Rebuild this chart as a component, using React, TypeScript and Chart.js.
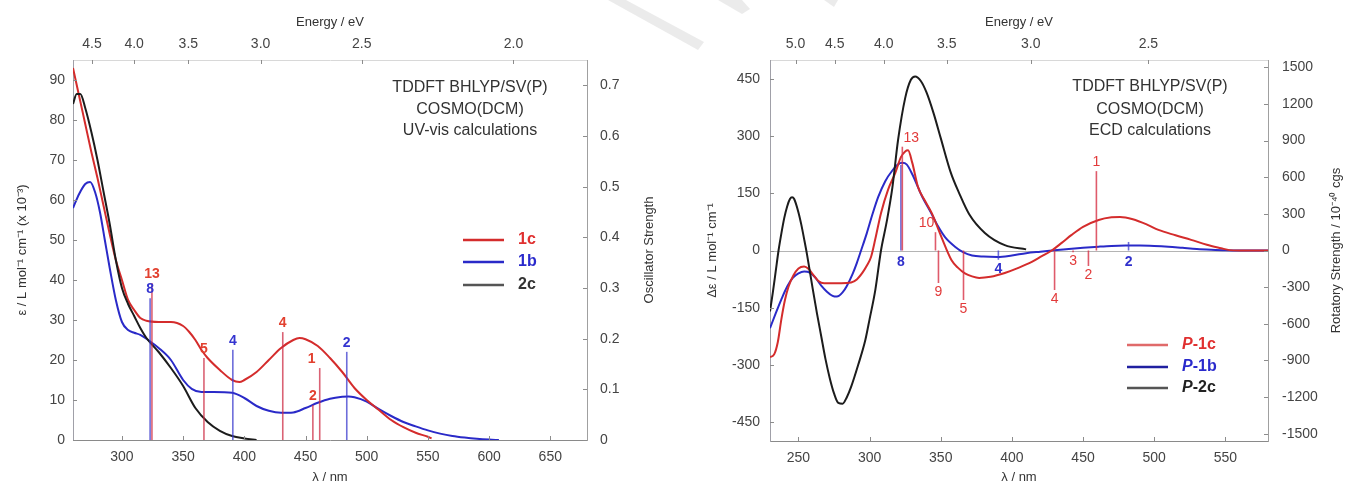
import React, { useEffect, useRef } from "react";
import { Chart, registerables } from "chart.js";

Chart.register(...registerables);

const HC = 1239.84; // eV·nm
const FONT = '"Liberation Sans", Arial, Helvetica, sans-serif';

const RED = "#d42c2c";
const BLUE = "#2a2ac8";
const BLACK = "#1c1c1c";

// ---------------- UV-vis panel ----------------
const uvNmTicks = [300, 350, 400, 450, 500, 550, 600, 650];
const uvEnergyTicks = [4.5, 4.0, 3.5, 3.0, 2.5, 2.0];
const uvEpsTicks = [0, 10, 20, 30, 40, 50, 60, 70, 80, 90];
const uvOscTicks = [0, 0.1, 0.2, 0.3, 0.4, 0.5, 0.6, 0.7];

const uv1cNm = [260, 265, 270, 275, 280, 285, 290, 295, 300, 305, 310, 315, 320, 330, 340, 350, 355, 360, 365, 370, 380, 390, 396, 400, 410, 420, 430, 440, 445, 450, 460, 470, 480, 490, 500, 510, 520, 530, 540, 550, 553];
const uv1cEps = [93, 86, 79, 72, 65.5, 58.5, 51.5, 45, 40, 35, 32.5, 30.5, 29.8, 29.5, 29.5, 28.5, 27, 25, 22.5, 20.5, 17.5, 15, 14.5, 15, 17, 20, 23, 25, 25.5, 25.2, 23.5, 20.5, 17, 13, 10, 7.5, 5, 3.2, 1.8, 0.8, 0.4];

const uv1bNm = [260, 265, 270, 274, 278, 282, 286, 290, 295, 300, 305, 310, 315, 320, 330, 340, 350, 357, 365, 375, 390, 400, 410, 420, 430, 440, 450, 460, 470, 480, 485, 490, 500, 510, 520, 530, 540, 550, 560, 570, 580, 590, 600, 608];
const uv1bEps = [58, 61.5, 64, 64.5, 62, 57, 50, 43, 35, 29.5, 27.5, 26.8, 26.3, 25.3, 23, 20, 15, 12.8, 12, 12, 11.8, 10.5, 8.5, 7.3, 6.8, 6.9, 8, 9.3, 10.3, 10.8, 10.9, 10.7, 9.6, 7.7, 6, 4.5, 3.4, 2.4, 1.6, 1, 0.6, 0.3, 0.1, 0];

const uv2cNm = [260, 263, 266, 270, 275, 280, 285, 290, 295, 300, 305, 310, 315, 320, 330, 340, 350, 360, 370, 380, 390, 400, 410];
const uv2cEps = [84, 86.5, 86.5, 83, 77, 70, 62, 54, 45, 38, 34, 31, 28, 25.5, 22, 18, 13.5, 8, 4.5, 2.3, 1, 0.4, 0];

const uv1cStickNm = [324.5, 367, 431.4, 456, 461.6];
const uv1cStickF = [0.31, 0.162, 0.213, 0.069, 0.142];
const uv1cStickText = ["13", "5", "4", "2", "1"];
const uv1cStickAt = ["end", "end", "end", "end", "end"];

const uv1bStickNm = [323, 390.6, 483.7];
const uv1bStickF = [0.28, 0.178, 0.174];
const uv1bStickText = ["8", "4", "2"];
const uv1bStickAt = ["end", "end", "end"];

// ---------------- ECD panel ----------------
const ecdNmTicks = [250, 300, 350, 400, 450, 500, 550];
const ecdEnergyTicks = [5.0, 4.5, 4.0, 3.5, 3.0, 2.5];
const ecdDeTicks = [-450, -300, -150, 0, 150, 300, 450];
const ecdRotTicks = [-1500, -1200, -900, -600, -300, 0, 300, 600, 900, 1200, 1500];

const ecd1cNm = [230, 233, 235.5, 238, 240.5, 243, 246.5, 250, 254, 257, 260, 264, 268, 280, 287, 291, 295, 298, 301, 304, 308, 313, 318, 322, 325, 327, 330, 334, 339, 343.7, 350.5, 357.5, 362, 367, 372, 377, 385, 395, 405, 414, 421, 428, 435, 442, 450, 461, 470, 476, 485, 495, 503, 515, 526, 537, 547, 553, 560, 580];
const ecd1cDe = [-280, -272, -240, -180, -130, -95, -65, -47, -42, -48, -62, -80, -86, -86, -84, -76, -58, -40, -17, 30, 98, 160, 203, 245, 260, 263, 230, 167, 130, 98, 35, -25, -45, -60, -68, -72, -69, -59, -45, -30, -15, 0, 20, 41, 62, 80, 87, 88, 82, 68, 54, 40, 28, 15, 6, 1, 0, 0];

const ecd1bNm = [230, 234, 238, 242, 246, 250, 254, 258, 262, 266, 270, 274, 277, 281, 284, 288, 291, 294, 298, 302, 306, 311, 316, 320, 323, 326, 330, 337, 343, 348, 353, 360, 366, 372, 380, 390, 400, 410, 420, 428, 440, 450, 461, 470, 480, 490, 500, 510, 520, 530, 540, 550, 560, 580];
const ecd1bDe = [-204, -165, -128, -95, -72, -60, -55, -58, -72, -92, -108, -119, -121, -110, -93, -62, -33, 0, 45, 95, 140, 182, 210, 226, 230, 226, 200, 141, 100, 64, 35, 10, -5, -13, -16, -17, -13, -7, -3, 0, 4, 7, 10, 12, 13, 13, 12, 10, 7, 4, 2, 0.5, 0, 0];

const ecd2cNm = [230, 232, 234, 236, 238, 240, 242, 244, 245.5, 247, 250, 252, 254, 256, 258, 260, 263, 266, 269, 272, 275, 278, 281, 284, 287, 292, 297, 300, 304, 308, 312, 316, 320, 325, 329, 332, 336, 340, 345, 350, 357, 363, 370, 381, 395, 410];
const ecd2cDe = [-160, -110, -55, 0, 45, 85, 115, 135, 140, 135, 100, 68, 30, -10, -55, -100, -165, -225, -285, -335, -375, -400, -402, -385, -358, -300, -235, -180, -104, 0, 75, 165, 290, 400, 448, 457, 445, 415, 360, 295, 205, 150, 95, 46, 14, 3];

const ecd1cStickNm = [323, 346.3, 348.4, 366, 430, 443, 453.8, 459.4];
const ecd1cStickR = [850, 150, -266, -406, -324, -15, -127, 650];
const ecd1cStickText = ["13", "10", "9", "5", "4", "3", "2", "1"];
const ecd1cStickAt = ["end", "end", "end", "end", "end", "end", "end", "end"];

const ecd1bStickNm = [322, 390.5, 482];
const ecd1bStickR = [700, -75, 70];
const ecd1bStickText = ["8", "4", "2"];
const ecd1bStickAt = ["base", "end", "base"];

// small horizontal nudges for crowded stick labels (px)
const labelNudge: Record<string, number> = { "uv:1": -8, "ecd:10": -9, "ecd:13": 9 };

type Series = { nm: number[]; val: number[]; color: string };
type Sticks = { nm: number[]; val: number[]; text: string[]; at: string[]; color: string; textColor: string; bold: boolean };
type LegendItem = { text: string; italicPrefix?: string; color: string; textColor: string };

interface PanelSpec {
  key: string;
  canvasLeft: number;
  width: number;
  area: { left: number; top: number; right: number; bottom: number };
  nmMin: number;
  nmMax: number;
  nmTicks: number[];
  eTicks: number[];
  yMin: number;
  yMax: number;
  yTicks: number[];
  y2Min: number;
  y2Max: number;
  y2Ticks: number[];
  y2Format: (v: number) => string;
  series: Series[];
  sticks: Sticks[];
  zeroLine: boolean;
  titleLeft: string;
  titleRight: string;
  titleLeftX: number;
  titleRightX: number;
  pads: { left: number; right: number };
  note: string[];
  noteX: number;
  noteY: number[];
  legend: LegendItem[];
  legendX: number;
  legendY: number[];
}

const pts = (xs: number[], ys: number[]) => xs.map((x, i) => ({ x, y: ys[i] }));

const uvSpec: PanelSpec = {
  key: "uv",
  canvasLeft: 0,
  width: 672,
  area: { left: 73, top: 60, right: 587, bottom: 440 },
  nmMin: 260,
  nmMax: 680,
  nmTicks: uvNmTicks,
  eTicks: uvEnergyTicks,
  yMin: 0,
  yMax: 95,
  yTicks: uvEpsTicks,
  y2Min: 0,
  y2Max: 0.75,
  y2Ticks: uvOscTicks,
  y2Format: (v) => (v === 0 ? "0" : v.toFixed(1)),
  series: [
    { nm: uv2cNm, val: uv2cEps, color: BLACK },
    { nm: uv1cNm, val: uv1cEps, color: RED },
    { nm: uv1bNm, val: uv1bEps, color: BLUE },
  ],
  sticks: [
    { nm: uv1cStickNm, val: uv1cStickF, text: uv1cStickText, at: uv1cStickAt, color: "rgba(205,45,70,0.75)", textColor: "#e2402f", bold: true },
    { nm: uv1bStickNm, val: uv1bStickF, text: uv1bStickText, at: uv1bStickAt, color: "rgba(60,60,205,0.75)", textColor: "#3434d0", bold: true },
  ],
  zeroLine: false,
  titleLeft: "ε / L mol⁻¹ cm⁻¹ (x 10⁻³)",
  titleRight: "Oscillator Strength",
  titleLeftX: 22,
  titleRightX: 649,
  pads: { left: 8, right: 13 },
  note: ["TDDFT BHLYP/SV(P)", "COSMO(DCM)", "UV-vis calculations"],
  noteX: 470,
  noteY: [88, 110, 131],
  legend: [
    { text: "1c", color: RED, textColor: "#e03030" },
    { text: "1b", color: BLUE, textColor: "#2a2acc" },
    { text: "2c", color: "#555", textColor: "#333" },
  ],
  legendX: 463,
  legendY: [240, 262, 285],
};

const ecdSpec: PanelSpec = {
  key: "ecd",
  canvasLeft: 672,
  width: 675,
  area: { left: 98, top: 60, right: 596, bottom: 441 },
  nmMin: 230,
  nmMax: 580,
  nmTicks: ecdNmTicks,
  eTicks: ecdEnergyTicks,
  yMin: -500,
  yMax: 500,
  yTicks: ecdDeTicks,
  y2Min: -1560,
  y2Max: 1560,
  y2Ticks: ecdRotTicks,
  y2Format: (v) => String(v),
  series: [
    { nm: ecd2cNm, val: ecd2cDe, color: BLACK },
    { nm: ecd1cNm, val: ecd1cDe, color: RED },
    { nm: ecd1bNm, val: ecd1bDe, color: BLUE },
  ],
  sticks: [
    { nm: ecd1cStickNm, val: ecd1cStickR, text: ecd1cStickText, at: ecd1cStickAt, color: "rgba(215,50,70,0.8)", textColor: "#e23a3a", bold: false },
    { nm: ecd1bStickNm, val: ecd1bStickR, text: ecd1bStickText, at: ecd1bStickAt, color: "rgba(60,60,205,0.75)", textColor: "#3030cc", bold: true },
  ],
  zeroLine: true,
  titleLeft: "Δε / L mol⁻¹ cm⁻¹",
  titleRight: "Rotatory Strength / 10⁻⁴⁰ cgs",
  titleLeftX: 40,
  titleRightX: 664,
  pads: { left: 10, right: 14 },
  note: ["TDDFT BHLYP/SV(P)", "COSMO(DCM)", "ECD calculations"],
  noteX: 478,
  noteY: [87, 110, 131],
  legend: [
    { text: "-1c", italicPrefix: "P", color: "#e06a6a", textColor: "#e03030" },
    { text: "-1b", italicPrefix: "P", color: "#2020a0", textColor: "#2a2acc" },
    { text: "-2c", italicPrefix: "P", color: "#555", textColor: "#222" },
  ],
  legendX: 455,
  legendY: [345, 367, 388],
};

// faint diagonal watermark strokes near the top centre of the page (page coordinates)
const watermark: number[][][] = [
  [[608, 0], [626, 0], [704, 42], [698, 50]],
  [[718, 0], [742, 0], [750, 9], [742, 14]],
  [[824, 0], [838, 0], [834, 7]],
];

function makeDecor(spec: PanelSpec) {
  return {
    id: "decor-" + spec.key,
    beforeDatasetsDraw(chart: any) {
      if (!spec.zeroLine) return;
      const { ctx, chartArea: a, scales } = chart;
      const y0 = Math.round(scales.y.getPixelForValue(0)) + 0.5;
      ctx.save();
      ctx.strokeStyle = "#b4b4b4";
      ctx.lineWidth = 1;
      ctx.beginPath();
      ctx.moveTo(a.left, y0);
      ctx.lineTo(a.right, y0);
      ctx.stroke();
      ctx.restore();
    },
    afterDraw(chart: any) {
      const { ctx, chartArea: a, scales } = chart;
      ctx.save();

      // watermark
      ctx.fillStyle = "rgba(210,210,210,0.45)";
      for (const poly of watermark) {
        ctx.beginPath();
        poly.forEach(([px, py], i) => {
          const x = px - spec.canvasLeft;
          if (i === 0) ctx.moveTo(x, py);
          else ctx.lineTo(x, py);
        });
        ctx.closePath();
        ctx.fill();
      }

      // inward tick marks
      ctx.strokeStyle = "#8c8c8c";
      ctx.lineWidth = 1;
      ctx.beginPath();
      for (const t of scales.x.ticks) {
        const px = Math.round(scales.x.getPixelForValue(t.value)) + 0.5;
        ctx.moveTo(px, a.bottom);
        ctx.lineTo(px, a.bottom - 4);
      }
      for (const t of scales.xTop.ticks) {
        const px = Math.round(scales.xTop.getPixelForValue(t.value)) + 0.5;
        ctx.moveTo(px, a.top);
        ctx.lineTo(px, a.top + 4);
      }
      for (const t of scales.y.ticks) {
        const py = Math.round(scales.y.getPixelForValue(t.value)) + 0.5;
        ctx.moveTo(a.left, py);
        ctx.lineTo(a.left + 4, py);
      }
      for (const t of scales.y2.ticks) {
        const py = Math.round(scales.y2.getPixelForValue(t.value)) + 0.5;
        ctx.moveTo(a.right, py);
        ctx.lineTo(a.right - 4, py);
      }
      ctx.stroke();

      // axis titles
      const cx = (a.left + a.right) / 2;
      const cy = (a.top + a.bottom) / 2;
      ctx.fillStyle = "#333";
      ctx.font = `13px ${FONT}`;
      ctx.textAlign = "center";
      ctx.textBaseline = "middle";
      ctx.fillText("Energy / eV", cx, 22);
      ctx.fillText("λ / nm", cx, 477);
      for (const [text, x] of [
        [spec.titleLeft, spec.titleLeftX],
        [spec.titleRight, spec.titleRightX],
      ] as [string, number][]) {
        ctx.save();
        ctx.translate(x, cy);
        ctx.rotate(-Math.PI / 2);
        ctx.fillText(text, 0, 0);
        ctx.restore();
      }

      // stick labels
      const y0 = scales.y2.getPixelForValue(0);
      for (const s of spec.sticks) {
        ctx.fillStyle = s.textColor;
        ctx.font = `${s.bold ? "bold " : ""}14px ${FONT}`;
        s.nm.forEach((nm, i) => {
          const label = s.text[i];
          const px = scales.x.getPixelForValue(nm) + (labelNudge[spec.key + ":" + label] || 0);
          const py = scales.y2.getPixelForValue(s.val[i]);
          let ty: number;
          if (s.at[i] === "base") ty = y0 + 12;
          else ty = s.val[i] >= 0 ? py - 9 : py + 9;
          ctx.fillText(label, px, ty);
        });
      }

      // method note
      ctx.fillStyle = "#333";
      ctx.font = `16px ${FONT}`;
      spec.note.forEach((line, i) => ctx.fillText(line, spec.noteX, spec.noteY[i]));

      // legend
      spec.legend.forEach((item, i) => {
        const y = spec.legendY[i];
        ctx.strokeStyle = item.color;
        ctx.lineWidth = 2.5;
        ctx.beginPath();
        ctx.moveTo(spec.legendX, y);
        ctx.lineTo(spec.legendX + 41, y);
        ctx.stroke();
        ctx.fillStyle = item.textColor;
        ctx.textAlign = "left";
        let tx = spec.legendX + 55;
        if (item.italicPrefix) {
          ctx.font = `italic bold 16px ${FONT}`;
          ctx.fillText(item.italicPrefix, tx, y);
          tx += ctx.measureText(item.italicPrefix).width;
        }
        ctx.font = `bold 16px ${FONT}`;
        ctx.fillText(item.text, tx, y);
      });

      ctx.restore();
    },
  };
}

function buildConfig(spec: PanelSpec): any {
  const H = 484;
  const datasets: any[] = [];
  for (const s of spec.sticks) {
    s.nm.forEach((nm, i) => {
      datasets.push({
        type: "line",
        data: [
          { x: nm, y: 0 },
          { x: nm, y: s.val[i] },
        ],
        xAxisID: "x",
        yAxisID: "y2",
        borderColor: s.color,
        borderWidth: 1.6,
        pointRadius: 0,
        tension: 0,
      });
    });
  }
  for (const s of spec.series) {
    datasets.push({
      type: "line",
      data: pts(s.nm, s.val),
      xAxisID: "x",
      yAxisID: "y",
      borderColor: s.color,
      borderWidth: 2,
      pointRadius: 0,
      cubicInterpolationMode: "monotone",
    });
  }

  const tickFont = { family: FONT, size: 14 };
  const tickColor = "#444";
  const setTicks = (vals: number[]) => (scale: any) => {
    scale.ticks = vals.map((v) => ({ value: v }));
  };

  return {
    type: "line",
    data: { datasets },
    options: {
      responsive: false,
      animation: false,
      events: [],
      layout: { padding: 0 },
      plugins: { legend: { display: false }, tooltip: { enabled: false }, title: { display: false } },
      scales: {
        x: {
          type: "linear",
          position: "bottom",
          min: spec.nmMin,
          max: spec.nmMax,
          afterBuildTicks: setTicks(spec.nmTicks),
          afterFit: (s: any) => {
            s.height = H - spec.area.bottom;
          },
          grid: { display: false, drawTicks: false },
          border: { display: true, color: "#8a8a8a", width: 1 },
          ticks: { font: tickFont, color: tickColor, padding: 9, maxRotation: 0, autoSkip: false, callback: (v: number) => String(v) },
        },
        xTop: {
          type: "linear",
          position: "top",
          min: spec.nmMin,
          max: spec.nmMax,
          afterBuildTicks: (scale: any) => {
            scale.ticks = spec.eTicks.map((e) => ({ value: HC / e }));
          },
          afterFit: (s: any) => {
            s.height = spec.area.top;
          },
          grid: { display: false, drawTicks: false },
          border: { display: true, color: "#d8d8d8", width: 1 },
          ticks: { font: tickFont, color: tickColor, padding: 7, maxRotation: 0, autoSkip: false, callback: (v: number) => (HC / v).toFixed(1) },
        },
        y: {
          type: "linear",
          position: "left",
          min: spec.yMin,
          max: spec.yMax,
          afterBuildTicks: setTicks(spec.yTicks),
          afterFit: (s: any) => {
            s.width = spec.area.left;
          },
          grid: { display: false, drawTicks: false },
          border: { display: true, color: "#a0a0a8", width: 1 },
          ticks: { font: tickFont, color: tickColor, padding: spec.pads.left, autoSkip: false, callback: (v: number) => String(v) },
        },
        y2: {
          type: "linear",
          position: "right",
          min: spec.y2Min,
          max: spec.y2Max,
          afterBuildTicks: setTicks(spec.y2Ticks),
          afterFit: (s: any) => {
            s.width = spec.width - spec.area.right;
          },
          grid: { display: false, drawTicks: false },
          border: { display: true, color: "#a0a0a0", width: 1 },
          ticks: { font: tickFont, color: tickColor, padding: spec.pads.right, autoSkip: false, callback: (v: number) => spec.y2Format(v) },
        },
      },
    },
    plugins: [makeDecor(spec)],
  };
}

function Panel({ spec }: { spec: PanelSpec }) {
  const ref = useRef<HTMLCanvasElement | null>(null);
  useEffect(() => {
    if (!ref.current) return;
    const chart = new Chart(ref.current, buildConfig(spec));
    return () => chart.destroy();
  }, [spec]);
  return (
    <canvas
      ref={ref}
      width={spec.width}
      height={484}
      style={{ position: "absolute", left: spec.canvasLeft, top: 0, width: spec.width, height: 484 }}
    />
  );
}

export default function App() {
  return (
    <div style={{ position: "fixed", left: 0, top: 0, width: 1347, height: 484, background: "#fff", overflow: "hidden" }}>
      <Panel spec={uvSpec} />
      <Panel spec={ecdSpec} />
    </div>
  );
}
